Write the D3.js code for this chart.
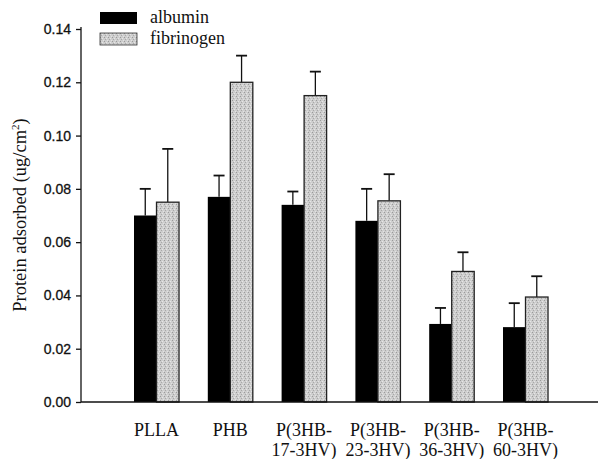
<!DOCTYPE html>
<html>
<head>
<meta charset="utf-8">
<script src="https://cdn.jsdelivr.net/npm/d3@7"></script>
<style>
  body { margin: 0; background: #fff; }
  svg { display: block; }
</style>
</head>
<body>
<div id="chart"></div>
<script>
// data
var categories = ["PLLA", "PHB", "P(3HB-\n17-3HV)", "P(3HB-\n23-3HV)", "P(3HB-\n36-3HV)", "P(3HB-\n60-3HV)"];
var series = ["albumin", "fibrinogen"];
var albumin = [0.070, 0.077, 0.074, 0.068, 0.0293, 0.0281];
var albuminErr = [0.010, 0.008, 0.005, 0.012, 0.006, 0.009];
var fibrinogen = [0.075, 0.120, 0.115, 0.0755, 0.049, 0.0394];
var fibrinogenErr = [0.020, 0.010, 0.009, 0.010, 0.0072, 0.0078];
var yTicks = [0, 0.02, 0.04, 0.06, 0.08, 0.10, 0.12, 0.14];

var W = 598, H = 459;
var serif = "'Liberation Serif', 'DejaVu Serif', serif";
var sans = "'Liberation Sans', Arial, sans-serif";

var svg = d3.select("#chart").append("svg")
  .attr("width", W)
  .attr("height", H);

var defs = svg.append("defs");
// stippled grey for fibrinogen
var pat = defs.append("pattern")
  .attr("id", "stipple")
  .attr("width", 4).attr("height", 4)
  .attr("patternUnits", "userSpaceOnUse");
pat.append("rect").attr("width", 4).attr("height", 4).attr("fill", "#cdcdcd");
pat.append("rect").attr("x", 0).attr("y", 0).attr("width", 1).attr("height", 1).attr("fill", "#9a9a9a");
pat.append("rect").attr("x", 2).attr("y", 1).attr("width", 1).attr("height", 1).attr("fill", "#e6e6e6");
pat.append("rect").attr("x", 1).attr("y", 2).attr("width", 1).attr("height", 1).attr("fill", "#a8a8a8");
pat.append("rect").attr("x", 3).attr("y", 3).attr("width", 1).attr("height", 1).attr("fill", "#e2e2e2");

var y = d3.scaleLinear().domain([0, 0.14]).range([402, 29]);

var step = 73.8;
var x0 = d3.scaleBand()
  .domain(categories)
  .range([134 - 0.195 * step, 134 - 0.195 * step + step * 6])
  .paddingInner(0.39)
  .paddingOuter(0.195);

var x1 = d3.scaleBand()
  .domain(series)
  .range([0, x0.bandwidth()]);

var rows = categories.map(function(c, i) {
  return [
    {cat: c, s: "albumin", v: albumin[i], e: albuminErr[i]},
    {cat: c, s: "fibrinogen", v: fibrinogen[i], e: fibrinogenErr[i]}
  ];
});
var flat = [].concat.apply([], rows);

// error bars (upper only), drawn first so the bar covers the stem base
var err = svg.append("g").attr("class", "err")
  .selectAll("g")
  .data(flat)
  .enter().append("g")
  .attr("transform", function(d) { return "translate(" + (x0(d.cat) + x1(d.s) + x1.bandwidth() / 2) + ",0)"; });

err.append("line")
  .attr("x1", 0).attr("x2", 0)
  .attr("y1", function(d) { return y(d.v); })
  .attr("y2", function(d) { return y(d.v + d.e); })
  .attr("stroke", "#111").attr("stroke-width", 1.3);
err.append("line")
  .attr("x1", -5.5).attr("x2", 5.5)
  .attr("y1", function(d) { return y(d.v + d.e); })
  .attr("y2", function(d) { return y(d.v + d.e); })
  .attr("stroke", "#111").attr("stroke-width", 1.8);

// bars
svg.append("g").attr("class", "bars")
  .selectAll("rect")
  .data(flat)
  .enter().append("rect")
  .attr("x", function(d) { return x0(d.cat) + x1(d.s); })
  .attr("y", function(d) { return y(d.v); })
  .attr("width", x1.bandwidth())
  .attr("height", function(d) { return y(0) - y(d.v); })
  .attr("fill", function(d) { return d.s == "albumin" ? "#000" : "url(#stipple)"; })
  .attr("stroke", function(d) { return d.s == "albumin" ? "none" : "#222"; })
  .attr("stroke-width", 1.3);

// y axis
var yAxis = svg.append("g")
  .attr("transform", "translate(81,0)")
  .call(d3.axisLeft(y).tickValues(yTicks).tickSize(5).tickFormat(d3.format(".2f")));
yAxis.select(".domain").attr("stroke", "#111").attr("stroke-width", 1.3)
  .attr("d", "M0," + (y(0.14) - 2) + "V" + y(0));
yAxis.selectAll(".tick line").attr("stroke", "#111").attr("stroke-width", 1.3);
yAxis.selectAll(".tick text")
  .attr("x", -10)
  .attr("fill", "#111")
  .attr("stroke", "#111")
  .attr("stroke-width", 0.3)
  .style("font-family", sans)
  .style("font-size", "14px");

// x axis line
svg.append("line")
  .attr("x1", 81).attr("x2", 598)
  .attr("y1", y(0)).attr("y2", y(0))
  .attr("stroke", "#111").attr("stroke-width", 1.5);

// category labels
var lab = svg.append("g").selectAll("text")
  .data(categories)
  .enter().append("text")
  .attr("x", function(d) { return x0(d) + x0.bandwidth() / 2; })
  .attr("y", 436)
  .attr("text-anchor", "middle")
  .style("font-family", serif)
  .style("font-size", "18px")
  .attr("fill", "#111");
lab.selectAll("tspan")
  .data(function(d) { return d.split("\n"); })
  .enter().append("tspan")
  .attr("x", function() { var p = this.parentNode; return p.getAttribute("x"); })
  .attr("dy", function(d, i) { return i ? 20 : 0; })
  .text(function(d) { return d; });

// y title
var yt = svg.append("text")
  .attr("transform", "translate(26,215) rotate(-90)")
  .attr("text-anchor", "middle")
  .style("font-family", serif)
  .style("font-size", "18.5px")
  .attr("fill", "#111");
yt.append("tspan").text("Protein adsorbed (ug/cm");
yt.append("tspan").attr("dy", -7).style("font-size", "11px").text("2");
yt.append("tspan").attr("dy", 7).text(")");

// legend
var leg = svg.append("g").selectAll("g")
  .data(series)
  .enter().append("g")
  .attr("transform", function(d, i) { return "translate(100," + (12 + i * 21) + ")"; });
leg.append("rect")
  .attr("width", 37).attr("height", 12)
  .attr("fill", function(d) { return d == "albumin" ? "#000" : "url(#stipple)"; })
  .attr("stroke", function(d) { return d == "albumin" ? "none" : "#333"; })
  .attr("stroke-width", 0.8);
leg.append("text")
  .attr("x", 50).attr("y", 11)
  .style("font-family", serif)
  .style("font-size", "18px")
  .attr("fill", "#111")
  .text(function(d) { return d; });
</script>
</body>
</html>
